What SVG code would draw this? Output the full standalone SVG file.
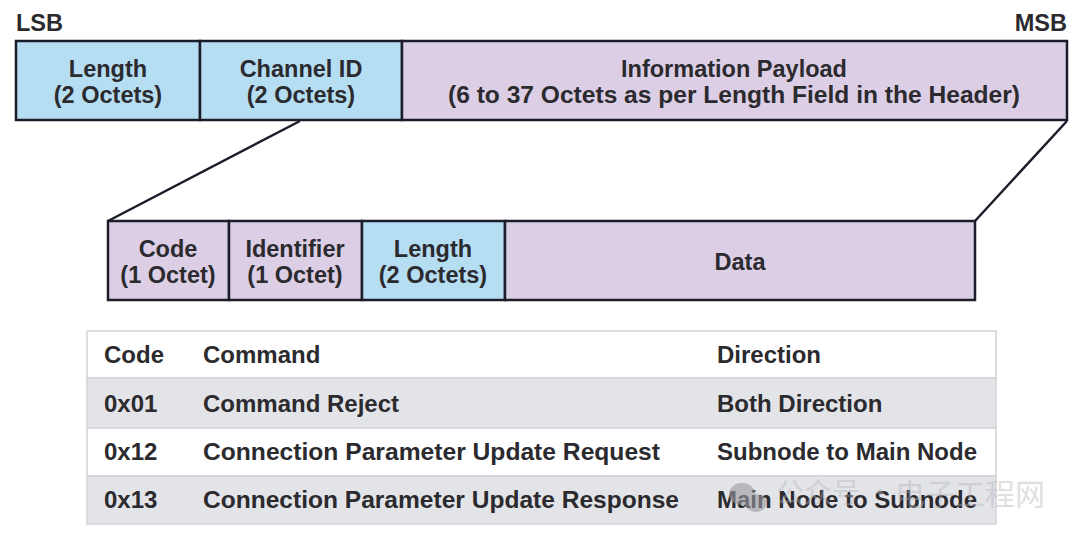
<svg xmlns="http://www.w3.org/2000/svg" width="1080" height="537" viewBox="0 0 1080 537">
<style>
.t{font-family:"Liberation Sans",Arial,sans-serif;font-weight:bold;fill:#2b2a2e;font-size:23.5px}
.c{text-anchor:middle}
.blue{fill:#b6def3;stroke:#1c1d2b;stroke-width:2.5}
.pur{fill:#dccfe5;stroke:#1c1d2b;stroke-width:2.5}
.ln{stroke:#1c1d2b;stroke-width:2.5;fill:none}
.row{stroke:#d3d4d8;stroke-width:1.5}
.g{fill:#e3e4e8}
.w{fill:#ffffff}
.tb{font-family:"Liberation Sans",Arial,sans-serif;font-weight:bold;fill:#2b2a2e;font-size:24px}
.wm{font-family:"Noto Sans CJK SC",sans-serif;fill:#b4b4b8;fill-opacity:0.7}
</style>
<rect width="1080" height="537" fill="#ffffff"/>
<text class="t" x="16" y="31">LSB</text>
<text class="t" x="1067" y="31" text-anchor="end">MSB</text>
<g id="connectors">
<line class="ln" x1="300" y1="121" x2="108" y2="221"/>
<line class="ln" x1="1067" y1="121" x2="975" y2="221"/>
</g>
<g id="hdr-length">
<rect class="blue" x="16" y="41" width="184" height="79"/>
<text class="t c" x="108" y="77">Length</text>
<text class="t c" x="108" y="103">(2 Octets)</text>
</g>
<g id="hdr-channel">
<rect class="blue" x="200" y="41" width="202" height="79"/>
<text class="t c" x="301" y="77">Channel ID</text>
<text class="t c" x="301" y="103">(2 Octets)</text>
</g>
<g id="hdr-payload">
<rect class="pur" x="402" y="41" width="665" height="79"/>
<text class="t c" x="734" y="77">Information Payload</text>
<text class="t c" x="734" y="103" textLength="572" lengthAdjust="spacingAndGlyphs">(6 to 37 Octets as per Length Field in the Header)</text>
</g>
<g id="sig-code">
<rect class="pur" x="108" y="221" width="121" height="79"/>
<text class="t c" x="168" y="257">Code</text>
<text class="t c" x="168" y="283">(1 Octet)</text>
</g>
<g id="sig-id">
<rect class="pur" x="229" y="221" width="133" height="79"/>
<text class="t c" x="295" y="257">Identifier</text>
<text class="t c" x="295" y="283">(1 Octet)</text>
</g>
<g id="sig-length">
<rect class="blue" x="362" y="221" width="143" height="79"/>
<text class="t c" x="433" y="257">Length</text>
<text class="t c" x="433" y="283">(2 Octets)</text>
</g>
<g id="sig-data">
<rect class="pur" x="505" y="221" width="470" height="79"/>
<text class="t c" x="740" y="270">Data</text>
</g>
<g id="table">
<rect class="w row" x="87" y="331" width="909" height="47"/>
<rect class="g row" x="87" y="378" width="909" height="50"/>
<rect class="w row" x="87" y="428" width="909" height="48"/>
<rect class="g row" x="87" y="476" width="909" height="48"/>
<text class="tb" x="104" y="363">Code</text>
<text class="tb" x="203" y="363">Command</text>
<text class="tb" x="717" y="363">Direction</text>
<text class="tb" x="104" y="412">0x01</text>
<text class="tb" x="203" y="412">Command Reject</text>
<text class="tb" x="717" y="412">Both Direction</text>
<text class="tb" x="104" y="460">0x12</text>
<text class="tb" x="203" y="460" textLength="457" lengthAdjust="spacingAndGlyphs">Connection Parameter Update Request</text>
<text class="tb" x="717" y="460">Subnode to Main Node</text>
<text class="tb" x="104" y="508">0x13</text>
<text class="tb" x="203" y="508" textLength="476" lengthAdjust="spacingAndGlyphs">Connection Parameter Update Response</text>
<text class="tb" x="717" y="508">Main Node to Subnode</text>
</g>
<g id="watermark" opacity="0.6">
<ellipse cx="742" cy="494" rx="13" ry="11" fill="#9a9aa0"/>
<ellipse cx="756" cy="503" rx="11" ry="9" fill="#9a9aa0"/>
<text class="wm" x="776" y="503" font-size="28">公众号 ·</text>
<text class="wm" x="895" y="505" font-size="30">电子工程网</text>
</g>
</svg>
